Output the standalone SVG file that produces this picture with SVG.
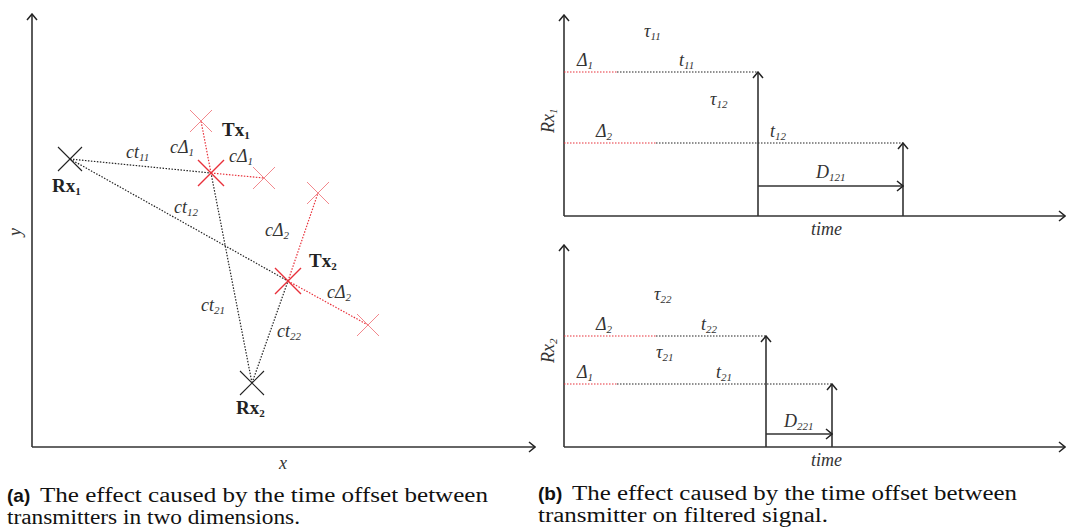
<svg xmlns="http://www.w3.org/2000/svg" width="1069" height="529" viewBox="0 0 1069 529" font-family="'Liberation Serif', 'Times New Roman', serif">
<defs>
<marker id="ah" viewBox="0 0 12 12" refX="11" refY="6" markerWidth="12" markerHeight="12" markerUnits="userSpaceOnUse" orient="auto">
<path d="M5,1 L11,6 L5,11" fill="none" stroke="#222" stroke-width="1.5"/>
</marker>
</defs>
<style>
.ax{stroke:#333;stroke-width:1.6;fill:none}
.bd{stroke:#222;stroke-width:1.2;stroke-dasharray:1.5 1.5;fill:none}
.rd{stroke:#e8303a;stroke-width:1.2;stroke-dasharray:1.5 1.5;fill:none}
.xk{stroke:#222;stroke-width:1.1;fill:none}
.xr{stroke:#e8303a;stroke-width:1.4;fill:none}
.xf{stroke:#f07a80;stroke-width:0.9;fill:none}
.lb{font-family:'Liberation Serif',serif;font-style:italic;font-size:18px;fill:#333}
.bl{font-family:'Liberation Serif',serif;font-weight:bold;font-size:19px;fill:#222}
.sb{font-size:11px}
.cap{font-family:'Liberation Serif',serif;font-size:20px;fill:#111}
.cb{font-family:'Liberation Sans',sans-serif;font-weight:bold;font-size:19px;fill:#111}
</style>

<g id="left-axes">
<line class="ax" x1="32" y1="447" x2="32" y2="14" marker-end="url(#ah)"/>
<line class="ax" x1="32" y1="447" x2="535" y2="447" marker-end="url(#ah)"/>
<text class="lb" x="279" y="469">x</text>
<text class="lb" x="21" y="236" transform="rotate(-90 21 236)">y</text>
</g>

<g id="connectors">
<line class="bd" x1="70" y1="159" x2="211" y2="173"/>
<line class="bd" x1="70" y1="159" x2="288" y2="281"/>
<line class="bd" x1="252" y1="383" x2="211" y2="173"/>
<line class="bd" x1="252" y1="383" x2="288" y2="281"/>
<line class="rd" x1="211" y1="173" x2="201" y2="121"/>
<line class="rd" x1="211" y1="173" x2="264" y2="178"/>
<line class="rd" x1="288" y1="281" x2="318" y2="193"/>
<line class="rd" x1="288" y1="281" x2="368" y2="325"/>
</g>

<g id="Rx1">
<path class="xk" d="M58,147 L82,171 M82,147 L58,171"/>
<text class="bl" x="52" y="192">Rx<tspan class="sb" dy="3">1</tspan></text>
</g>
<g id="Rx2">
<path class="xk" d="M240,371 L264,395 M264,371 L240,395"/>
<text class="bl" x="236" y="414">Rx<tspan class="sb" dy="3">2</tspan></text>
</g>
<g id="Tx1">
<path class="xr" d="M198,160 L224,186 M224,160 L198,186"/>
<text class="bl" x="222" y="136">Tx<tspan class="sb" dy="3">1</tspan></text>
</g>
<g id="Tx2">
<path class="xr" d="M275,268 L301,294 M301,268 L275,294"/>
<text class="bl" x="309" y="267">Tx<tspan class="sb" dy="3">2</tspan></text>
</g>
<g id="Tx1-a">
<path class="xf" d="M190,110 L212,132 M212,110 L190,132"/>
</g>
<g id="Tx1-b">
<path class="xf" d="M253,167 L275,189 M275,167 L253,189"/>
</g>
<g id="Tx2-a">
<path class="xf" d="M307,182 L329,204 M329,182 L307,204"/>
</g>
<g id="Tx2-b">
<path class="xf" d="M357,314 L379,336 M379,314 L357,336"/>
</g>

<g id="left-labels">
<text class="lb" x="126" y="158">ct<tspan class="sb" dy="3">11</tspan></text>
<text class="lb" x="174" y="213">ct<tspan class="sb" dy="3">12</tspan></text>
<text class="lb" x="201" y="311">ct<tspan class="sb" dy="3">21</tspan></text>
<text class="lb" x="277" y="337">ct<tspan class="sb" dy="3">22</tspan></text>
<text class="lb" x="170" y="153">cΔ<tspan class="sb" dy="3">1</tspan></text>
<text class="lb" x="229" y="162">cΔ<tspan class="sb" dy="3">1</tspan></text>
<text class="lb" x="265" y="236">cΔ<tspan class="sb" dy="3">2</tspan></text>
<text class="lb" x="327" y="298">cΔ<tspan class="sb" dy="3">2</tspan></text>
</g>

<g id="top-plot">
<line class="ax" x1="564" y1="216" x2="564" y2="15" marker-end="url(#ah)"/>
<line class="ax" x1="564" y1="216" x2="1065" y2="216" marker-end="url(#ah)"/>
<line class="rd" x1="564" y1="72" x2="617" y2="72"/>
<line class="bd" x1="617" y1="72" x2="758" y2="72"/>
<line class="rd" x1="564" y1="143" x2="656" y2="143"/>
<line class="bd" x1="656" y1="143" x2="903" y2="143"/>
<line class="ax" x1="758" y1="216" x2="758" y2="72" marker-end="url(#ah)"/>
<line class="ax" x1="903" y1="216" x2="903" y2="143" marker-end="url(#ah)"/>
<line class="ax" x1="758" y1="186" x2="903" y2="186" marker-end="url(#ah)"/>
<text class="lb" x="644" y="37">τ<tspan class="sb" dy="3">11</tspan></text>
<text class="lb" x="577" y="66">Δ<tspan class="sb" dy="3">1</tspan></text>
<text class="lb" x="679" y="66">t<tspan class="sb" dy="3">11</tspan></text>
<text class="lb" x="710" y="105">τ<tspan class="sb" dy="3">12</tspan></text>
<text class="lb" x="596" y="137">Δ<tspan class="sb" dy="3">2</tspan></text>
<text class="lb" x="770" y="137">t<tspan class="sb" dy="3">12</tspan></text>
<text class="lb" x="816" y="178">D<tspan class="sb" dy="3">121</tspan></text>
<text class="lb" x="811" y="235">time</text>
<text class="lb" x="554" y="133" transform="rotate(-90 554 133)">Rx<tspan class="sb" dy="3">1</tspan></text>
</g>

<g id="bottom-plot">
<line class="ax" x1="564" y1="447" x2="564" y2="245" marker-end="url(#ah)"/>
<line class="ax" x1="564" y1="447" x2="1065" y2="447" marker-end="url(#ah)"/>
<line class="rd" x1="564" y1="336" x2="656" y2="336"/>
<line class="bd" x1="656" y1="336" x2="766" y2="336"/>
<line class="rd" x1="564" y1="384" x2="617" y2="384"/>
<line class="bd" x1="617" y1="384" x2="832" y2="384"/>
<line class="ax" x1="766" y1="447" x2="766" y2="336" marker-end="url(#ah)"/>
<line class="ax" x1="832" y1="447" x2="832" y2="384" marker-end="url(#ah)"/>
<line class="ax" x1="766" y1="434" x2="832" y2="434" marker-end="url(#ah)"/>
<text class="lb" x="654" y="300">τ<tspan class="sb" dy="3">22</tspan></text>
<text class="lb" x="596" y="330">Δ<tspan class="sb" dy="3">2</tspan></text>
<text class="lb" x="701" y="330">t<tspan class="sb" dy="3">22</tspan></text>
<text class="lb" x="656" y="358">τ<tspan class="sb" dy="3">21</tspan></text>
<text class="lb" x="577" y="378">Δ<tspan class="sb" dy="3">1</tspan></text>
<text class="lb" x="716" y="378">t<tspan class="sb" dy="3">21</tspan></text>
<text class="lb" x="784" y="427">D<tspan class="sb" dy="3">221</tspan></text>
<text class="lb" x="811" y="466">time</text>
<text class="lb" x="554" y="363" transform="rotate(-90 554 363)">Rx<tspan class="sb" dy="3">2</tspan></text>
</g>

<g id="captions">
<text class="cb" x="7" y="502">(a)</text>
<text class="cap" x="40" y="502" textLength="448" lengthAdjust="spacingAndGlyphs">The effect caused by the time offset between</text>
<text class="cap" x="7" y="524" textLength="293" lengthAdjust="spacingAndGlyphs">transmitters in two dimensions.</text>
<text class="cb" x="538" y="500">(b)</text>
<text class="cap" x="572" y="500" textLength="445" lengthAdjust="spacingAndGlyphs">The effect caused by the time offset between</text>
<text class="cap" x="538" y="522" textLength="290" lengthAdjust="spacingAndGlyphs">transmitter on filtered signal.</text>
</g>
</svg>
